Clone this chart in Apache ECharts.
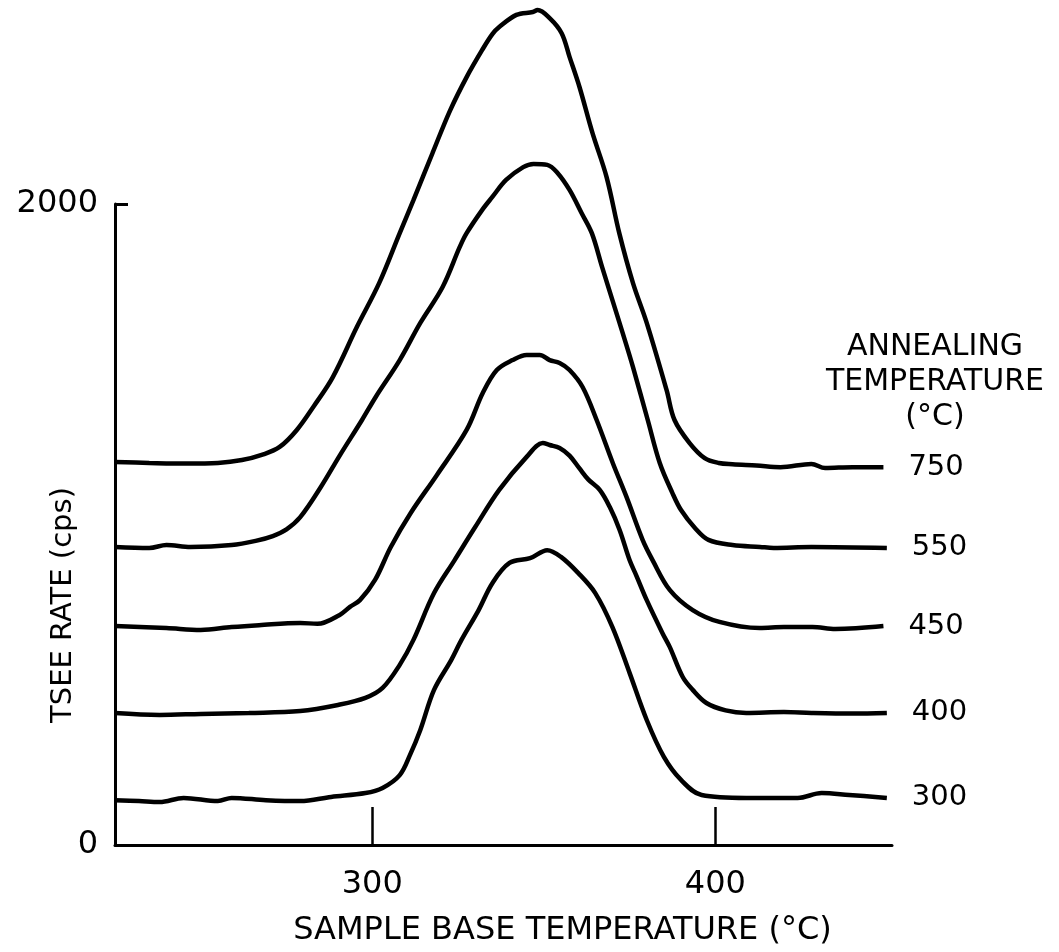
<!DOCTYPE html>
<html>
<head>
<meta charset="utf-8">
<title>TSEE rate vs sample base temperature</title>
<script src="https://cdn.jsdelivr.net/npm/echarts@6/dist/echarts.min.js"></script>
<style>
  html, body { margin: 0; padding: 0; background: #fff; }
  #chart { width: 1059px; height: 952px; }
</style>
</head>
<body>
<div id="chart"></div>
<script>
// tick labels
var xTicks = [300, 400];
var yTicks = [0, 2000];

// annealing temperatures (series names, top to bottom)
var anneal = ["750", "550", "450", "400", "300"];

// [sample base temperature (°C), TSEE rate (cps)]
var s750 = [[225,1195],[235,1192],[246,1190],[255,1192],[262,1201],[268,1218],[273,1242],[278,1295],[283,1370],[288.5,1460],[295.5,1616],[302,1753],[308,1909],[312,2012],[317.6,2160],[322.6,2290],[327.5,2396],[332,2480],[335,2530],[337,2552],[342,2590],[346.8,2599],[348.2,2605],[351.7,2580],[355.2,2533],[357.5,2459],[360.4,2365],[364.2,2221],[368.3,2084],[372,1909],[376,1753],[380,1629],[385.8,1419],[388.1,1326],[392.5,1254],[396.9,1207],[401,1192],[405,1188],[412,1184],[419,1179],[428,1189],[432,1176],[440,1179],[449,1179]];
var s550 = [[225,930],[235,927],[240,936],[247,930],[259,936],[266,949],[271,964],[275,985],[279,1023],[285,1117],[290.5,1215],[297,1326],[301,1398],[308,1513],[314,1629],[320.5,1741],[325.5,1866],[327.5,1909],[332,1981],[335,2022],[339,2075],[344,2115],[347,2125],[351,2122],[354,2097],[357.5,2044],[361,1972],[364,1909],[367,1803],[370,1700],[373,1597],[376,1491],[380.3,1326],[383.8,1192],[387.5,1098],[390,1045],[394,990],[398,952],[405,936],[413,930],[417,927],[428,930],[450,927]];
var s450 = [[225,683],[240,677],[250,671],[259,680],[267,686],[279,693],[284,690],[290.5,718],[293.5,743],[296.4,764],[300.8,827],[305.4,930],[311.2,1036],[318.8,1154],[327.5,1295],[332.2,1410],[336.3,1482],[340.9,1513],[345,1529],[348.8,1529],[351.7,1513],[354.6,1504],[357.5,1482],[361.3,1429],[365.4,1326],[370.1,1192],[374.1,1086],[378.8,952],[381.7,889],[386.7,796],[393.4,733],[401.2,696],[412.9,677],[420,680],[428.3,680],[435,674],[449,683]];
var s400 = [[225,412],[238,406],[250,409],[264,412],[279,418],[290,437],[298,459],[303,490],[308,562],[312,640],[318,786],[324,889],[330,992],[337,1108],[345,1211],[349.7,1254],[351.7,1248],[354.6,1239],[357.5,1215],[360.4,1175],[363,1140],[366.3,1108],[369.2,1055],[372.1,983],[375,889],[377,840],[380,764],[384.6,661],[386.7,618],[390.5,524],[393.4,484],[397.4,443],[403,420],[409,412],[420,415],[428,412],[440,410],[450,412]];
var s300 = [[225,140],[232,137],[238,134],[245,147],[255,137],[259,147],[269,140],[279,137],[288,150],[298,162],[303,178],[308,218],[311,281],[314,359],[318,484],[323,577],[326,640],[331,733],[335,817],[340,880],[346,895],[351,920],[355,899],[360,849],[365,786],[370,680],[375,537],[380,390],[385,275],[390,203],[396,156],[409,147],[424,147],[431,162],[439,156],[450,147]];

var curves = [s750, s550, s450, s400, s300];
var font = '"DejaVu Sans", sans-serif';

var dom = document.getElementById("chart");
var myChart = echarts.init(dom, null, { renderer: "canvas" });

var series = [];
curves.forEach(function (d, i) {
  series.push({
    name: anneal[i],
    type: "line",
    data: d,
    smooth: 0.35,
    symbol: "none",
    clip: false,
    lineStyle: { color: "#000", width: 4.5 },
    endLabel: {
      show: true,
      formatter: "{a}",
      distance: 25,
      color: "#000",
      fontSize: 29,
      fontFamily: font,
    },
    animation: false,
  });
});

var option = {
  backgroundColor: "#fff",
  animation: false,
  grid: {
    left: 115,
    right: 167,
    top: 204,
    bottom: 107,
    outerBoundsMode: "none",
  },
  xAxis: {
    type: "value",
    min: 225,
    max: 451.5,
    name: "SAMPLE BASE TEMPERATURE (°C)",
    nameLocation: "middle",
    nameGap: 70,
    nameTextStyle: {
      color: "#000",
      fontSize: 32,
      fontFamily: font,
      padding: [0, 0, 0, 118],
    },
    axisLine: { show: true, onZero: false, lineStyle: { color: "#000", width: 3 } },
    axisTick: {
      show: true,
      inside: true,
      length: 38,
      customValues: xTicks,
      lineStyle: { color: "#000", width: 2.5 },
    },
    axisLabel: {
      show: true,
      customValues: xTicks,
      margin: 24,
      color: "#000",
      fontSize: 32,
      fontFamily: font,
    },
    splitLine: { show: false },
  },
  yAxis: {
    type: "value",
    min: 0,
    max: 2000,
    interval: 2000,
    axisLine: { show: true, lineStyle: { color: "#000", width: 3 } },
    axisTick: {
      show: true,
      inside: true,
      length: 13,
      customValues: yTicks,
      lineStyle: { color: "#000", width: 3 },
    },
    axisLabel: {
      show: true,
      customValues: yTicks,
      formatter: function (v) {
        return String(v);
      },
      margin: 17,
      color: "#000",
      fontSize: 32,
      fontFamily: font,
    },
    splitLine: { show: false },
  },
  graphic: [
    {
      type: "text",
      x: 63,
      y: 605,
      rotation: Math.PI / 2,
      style: {
        text: "TSEE RATE (cps)",
        fill: "#000",
        fontSize: 29,
        fontFamily: font,
        align: "center",
        verticalAlign: "middle",
      },
    },
    {
      type: "text",
      x: 935,
      y: 330,
      style: {
        text: "ANNEALING\nTEMPERATURE\n(°C)",
        fill: "#000",
        fontSize: 30,
        lineHeight: 35,
        fontFamily: font,
        align: "center",
        verticalAlign: "top",
      },
    },
  ],
  series: series,
};

myChart.setOption(option);
window.addEventListener("resize", myChart.resize);
</script>
</body>
</html>
